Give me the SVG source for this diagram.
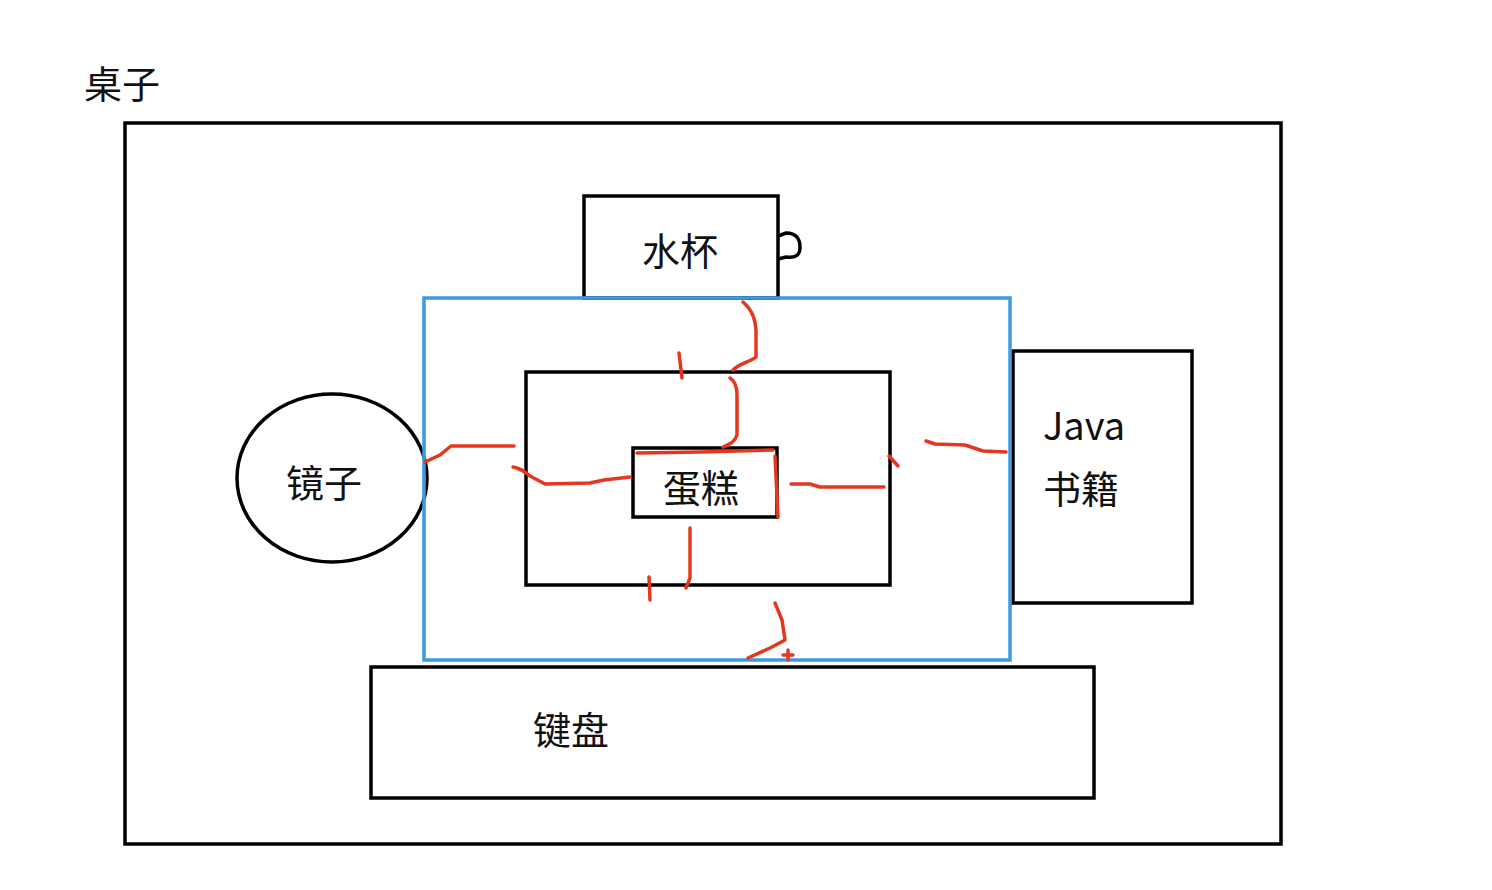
<svg xmlns="http://www.w3.org/2000/svg" width="1492" height="890" viewBox="0 0 1492 890">
<style>
.box{fill:none;stroke:#000;stroke-width:3.5}
.lbl{font-family:"Noto Sans CJK SC","Noto Sans",sans-serif;font-size:38px;fill:#111}
.red{fill:none;stroke:#e5361f;stroke-width:3.5;stroke-linecap:round;stroke-linejoin:round}
</style>
<rect width="1492" height="890" fill="#fff"/>
<g id="table">
<text class="lbl" x="84" y="98">桌子</text>
<rect class="box" x="125" y="123" width="1156" height="721"/>
</g>
<g id="cup">
<rect class="box" x="584" y="196" width="194" height="102"/>
<path class="box" d="M778,236 L786,233 C797,233 800,240 800,247 C800,256 795,258 786,257 L778,259"/>
<text class="lbl" x="680" y="265" text-anchor="middle">水杯</text>
</g>
<g id="keyboard">
<rect class="box" x="371" y="667" width="723" height="131"/>
<text class="lbl" x="533" y="744">键盘</text>
</g>
<g id="mirror">
<ellipse class="box" cx="332" cy="478" rx="95" ry="84"/>
<text class="lbl" x="324" y="497" text-anchor="middle">镜子</text>
</g>
<g id="book">
<rect class="box" x="1013" y="351" width="179" height="252"/>
<text class="lbl" x="1043" y="440">Java</text>
<text class="lbl" x="1043" y="503">书籍</text>
</g>
<g id="inner">
<rect class="box" x="526" y="372" width="364" height="213"/>
</g>
<g id="cake">
<rect class="box" x="633" y="448" width="144" height="69"/>
<text class="lbl" x="701" y="502" text-anchor="middle">蛋糕</text>
</g>
<g id="zone">
<rect x="424" y="298" width="586" height="362" fill="none" stroke="#3a9be0" stroke-width="3.5"/>
</g>
<g id="connectors">
<path class="red" d="M743,302 C752,310 755,318 756,330 L756,357 C750,362 740,363 733,370"/>
<path class="red" d="M679,353 L682,378"/>
<path class="red" d="M730,378 C735,381 737,386 737,395 L737,435 C735,442 730,444 723,447"/>
<path class="red" d="M637,453 L700,452 L773,450"/>
<path class="red" d="M775,456 L778,517"/>
<path class="red" d="M425,462 L440,455 L451,446 L514,446"/>
<path class="red" d="M513,467 C520,468 524,471 530,476 L545,484 L590,483 L604,480 L630,477"/>
<path class="red" d="M791,484 L810,484 L820,487 L884,487"/>
<path class="red" d="M889,456 L898,466"/>
<path class="red" d="M926,441 L935,444 L965,445 L983,451 L1006,452"/>
<path class="red" d="M690,528 L690,578 L686,588"/>
<path class="red" d="M649,577 L650,600"/>
<path class="red" d="M775,603 L782,620 L785,640 L770,648 L748,658"/>
<path class="red" stroke-width="2" d="M783,655 L793,655 M788,650 L788,660"/>
</g>
</svg>
